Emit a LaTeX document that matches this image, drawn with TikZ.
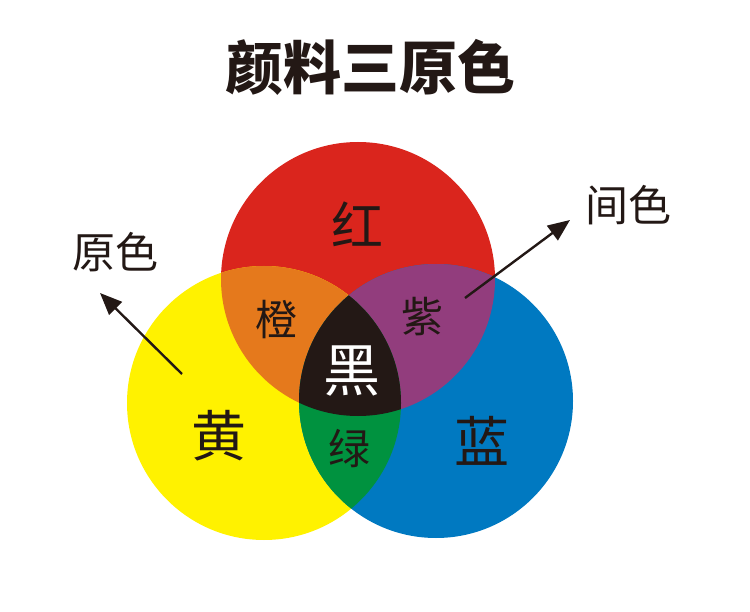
\documentclass[tikz,border=0pt]{standalone}
\usepackage{fontspec}
\newfontfamily\cjk{Noto Sans CJK SC}
\usetikzlibrary{arrows.meta}
\definecolor{cred}{HTML}{DA251D}
\definecolor{cyellow}{HTML}{FFF200}
\definecolor{cblue}{HTML}{0079C1}
\definecolor{corange}{HTML}{E5791C}
\definecolor{cpurple}{HTML}{923D7D}
\definecolor{cgreen}{HTML}{00923F}
\definecolor{cblack}{HTML}{231815}
\tikzset{
  lbl/.style={font=\cjk, text=cblack, inner sep=0pt},
  ptr/.style={line width=2.4pt, draw=cblack, -{Triangle[length=22pt,width=18pt]}},
}
\begin{document}
\begin{tikzpicture}[x=1pt,y=-1pt]
\useasboundingbox (0,0) rectangle (750,612);
\fill[white] (0,0) rectangle (750,612);
\def\RC{(358,279) circle (137)}
\def\YC{(264,403) circle (137)}
\def\BC{(436,401) circle (137)}
\fill[cred] \RC;
\fill[cyellow] \YC;
\fill[cblue] \BC;
\begin{scope}\clip \RC; \fill[corange] \YC; \end{scope}
\begin{scope}\clip \RC; \fill[cpurple] \BC; \end{scope}
\begin{scope}\clip \YC; \fill[cgreen] \BC; \end{scope}
\begin{scope}\clip \RC; \clip \YC; \fill[cblack] \BC; \end{scope}
\node[lbl, font=\cjk\bfseries\fontsize{58}{58}\selectfont] (title) at (370,67) {颜料三原色};
\node[lbl, font=\cjk\fontsize{52}{52}\selectfont] (red) at (357,224) {红};
\node[lbl, font=\cjk\fontsize{55}{55}\selectfont] (yellow) at (219,436) {黄};
\node[lbl, font=\cjk\fontsize{55}{55}\selectfont] (blue) at (482,441) {蓝};
\node[lbl, font=\cjk\fontsize{42}{42}\selectfont] (orange) at (276,320) {橙};
\node[lbl, font=\cjk\fontsize{42}{42}\selectfont] (purple) at (422,317) {紫};
\node[lbl, font=\cjk\fontsize{42}{42}\selectfont] (green) at (349,449) {绿};
\node[lbl, text=white, font=\cjk\fontsize{57}{57}\selectfont] (black) at (352,371) {黑};
\node[lbl, font=\cjk\fontsize{43}{43}\selectfont] (primary) at (115,252) {原色};
\node[lbl, font=\cjk\fontsize{43}{43}\selectfont] (secondary) at (628,205) {间色};
\coordinate (ptail) at (182,374);
\coordinate (ptip) at (100,293);
\coordinate (stail) at (465,298);
\coordinate (stip) at (570,220);
\draw[ptr] (ptail) -- (ptip);
\draw[ptr] (stail) -- (stip);
\end{tikzpicture}
\end{document}
